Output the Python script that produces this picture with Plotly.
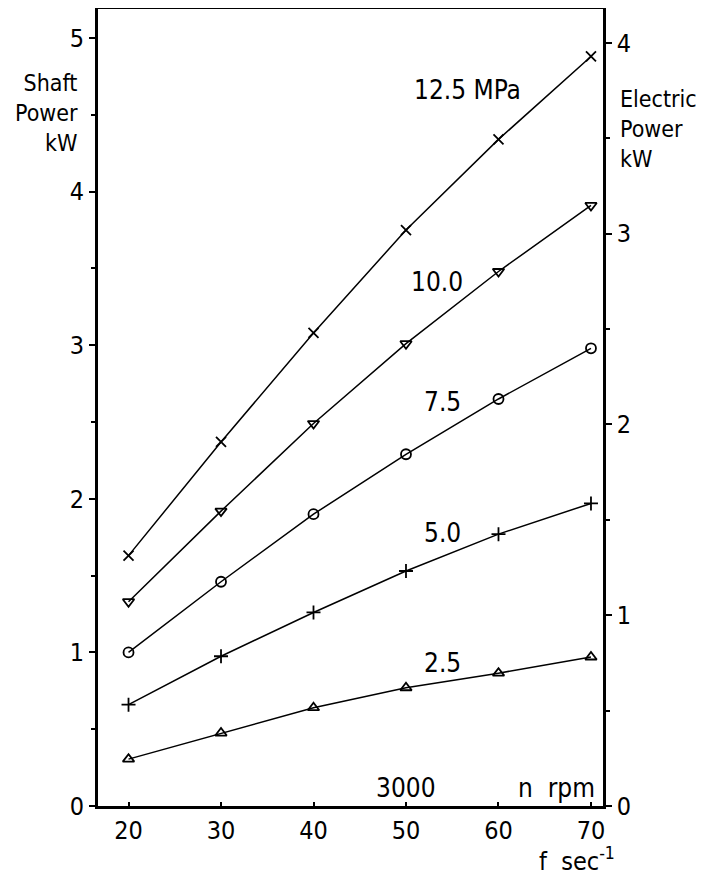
import plotly.graph_objects as go

freq = [20, 30, 40, 50, 60, 70]
p125 = [1.63, 2.37, 3.08, 3.75, 4.34, 4.88]
p100 = [1.33, 1.92, 2.49, 3.01, 3.48, 3.91]
p75 = [1.00, 1.46, 1.90, 2.29, 2.65, 2.98]
p50 = [0.66, 0.975, 1.26, 1.53, 1.77, 1.97]
p25 = [0.305, 0.475, 0.64, 0.77, 0.865, 0.97]

series = [
    ("12.5 MPa", p125, "x-thin-open"),
    ("10.0", p100, "triangle-down-open"),
    ("7.5", p75, "circle-open"),
    ("5.0", p50, "cross-thin-open"),
    ("2.5", p25, "triangle-up-open"),
]
# label positions (x in f, y in kW shaft)
label_pos = [(56.7, 4.66), (53.3, 3.41), (54.0, 2.63), (54.0, 1.78), (54.0, 0.93)]

left_ticks = [0, 1, 2, 3, 4, 5]
right_ticks = [0, 1, 2, 3, 4]
x_ticks = [20, 30, 40, 50, 60, 70]

FONT = "DejaVu Sans Condensed, DejaVu Sans, sans-serif"

fig = go.Figure()
for name, vals, sym in series:
    fig.add_trace(go.Scatter(
        x=freq, y=vals, mode="lines+markers",
        line=dict(color="black", width=1.5),
        marker=dict(symbol=sym, size=10, color="black", line=dict(width=1.8, color="black")),
        showlegend=False, yaxis="y", name=name))

# dummy trace for right axis
fig.add_trace(go.Scatter(x=[20], y=[0], yaxis="y2", mode="markers",
                         marker=dict(opacity=0), showlegend=False, hoverinfo="skip"))

ann = []
for (name, _, _), (lx, ly) in zip(series, label_pos):
    ann.append(dict(x=lx, y=ly, xref="x", yref="y", text=name, showarrow=False,
                    xanchor="center", yanchor="middle",
                    font=dict(size=26, family=FONT, color="black")))
ann.append(dict(x=50, y=0.12, xref="x", yref="y", text="3000", showarrow=False,
                xanchor="center", yanchor="middle",
                font=dict(size=26, family=FONT, color="black")))
ann.append(dict(x=70.6, y=0.12, xref="x", yref="y", text="n&nbsp;&nbsp;rpm", showarrow=False,
                xanchor="right", yanchor="middle",
                font=dict(size=26, family=FONT, color="black")))
ann.append(dict(x=-0.036, y=0.926, xref="paper", yref="paper", text="Shaft<br>Power<br>kW",
                showarrow=False, xanchor="right", yanchor="top", align="right",
                font=dict(size=23, family=FONT, color="black")))
ann.append(dict(x=1.03, y=0.906, xref="paper", yref="paper", text="Electric<br>Power<br>kW",
                showarrow=False, xanchor="left", yanchor="top", align="left",
                font=dict(size=23, family=FONT, color="black")))
ann.append(dict(x=1.028, y=-0.067, xref="paper", yref="paper", text="f&nbsp;&nbsp;sec<sup>-1</sup>",
                showarrow=False, xanchor="right", yanchor="middle",
                font=dict(size=25, family=FONT, color="black")))

fig.update_layout(
    width=713, height=867,
    margin=dict(l=90, r=118, t=1, b=69),
    paper_bgcolor="white", plot_bgcolor="white",
    annotations=ann,
    xaxis=dict(range=[16.7, 71.3], tickvals=x_ticks, ticks="inside", ticklen=4,
               tickcolor="black", tickwidth=2, automargin=False,
               showline=True, linecolor="black", linewidth=2.5, mirror=True,
               showgrid=False, zeroline=False,
               tickfont=dict(size=25, family=FONT, color="black")),
    yaxis=dict(range=[0, 5.189], tickvals=left_ticks, ticks="outside", ticklen=6,
               tickcolor="black", tickwidth=2, automargin=False,
               minor=dict(tickvals=[0.5, 1.5, 2.5, 3.5, 4.5], ticks="outside", ticklen=4,
                          tickcolor="black", tickwidth=1.5),
               showline=True, linecolor="black", linewidth=3,
               showgrid=False, zeroline=False,
               tickfont=dict(size=25, family=FONT, color="black")),
    yaxis2=dict(range=[0, 4.178], tickvals=right_ticks, overlaying="y", side="right",
                ticks="outside", ticklen=6, tickcolor="black", tickwidth=2, automargin=False,
                minor=dict(tickvals=[0.5, 1.5, 2.5, 3.5], ticks="outside", ticklen=4,
                           tickcolor="black", tickwidth=1.5),
                showline=True, linecolor="black", linewidth=2.5,
                showgrid=False, zeroline=False,
                tickfont=dict(size=25, family=FONT, color="black")),
)

fig.write_html("out.html")
